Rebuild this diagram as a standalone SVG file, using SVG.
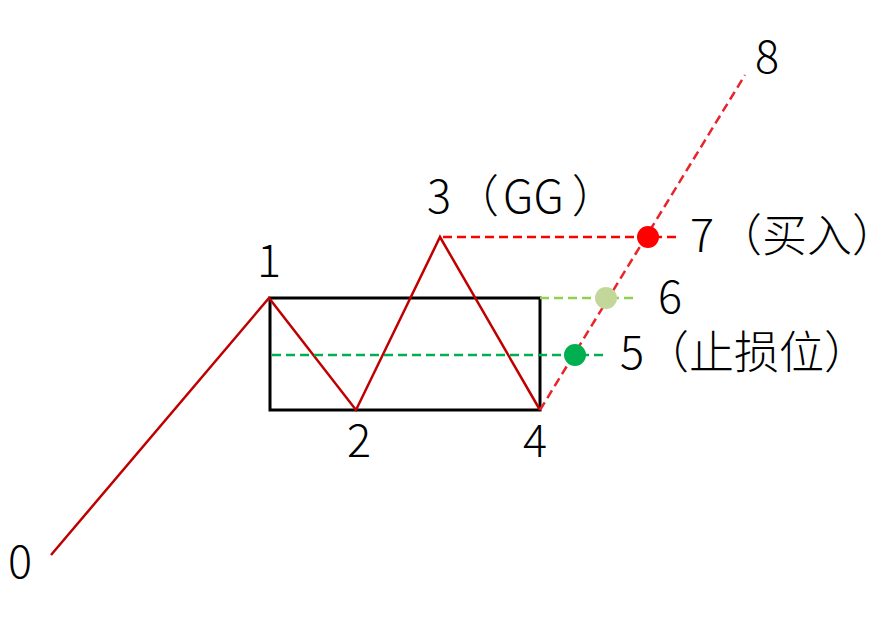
<svg xmlns="http://www.w3.org/2000/svg" width="876" height="620" viewBox="0 0 876 620">
<style>
text{font-family:"Noto Sans CJK SC","Noto Sans",sans-serif;font-size:45px;font-weight:300;fill:#000}
.wave{fill:none;stroke:#C00000;stroke-width:2.5;stroke-linejoin:miter}
.dash{fill:none;stroke-width:2.5;stroke-dasharray:9 5}
</style>
<rect width="876" height="620" fill="#fff"/>
<g id="box"><rect x="270" y="298" width="270" height="112" fill="none" stroke="#000" stroke-width="3"/></g>
<g id="connectors">
<polyline class="wave" points="51,555 269,298 356,410 440,237 540,410"/>
<line class="dash" x1="540" y1="410" x2="745" y2="75" stroke="#E8242A"/>
<line class="dash" x1="443" y1="237" x2="680" y2="237" stroke="#FF0000"/>
<line class="dash" x1="540" y1="298" x2="638" y2="298" stroke="#92D050"/>
<line class="dash" x1="272" y1="355" x2="606" y2="355" stroke="#00B050"/>
</g>
<g id="p7"><circle cx="648" cy="237" r="11" fill="#FF0000"/><text x="690" y="252">7<tspan dx="3">（买入）</tspan></text></g>
<g id="p6"><circle cx="606" cy="298" r="11" fill="#C4D79B"/><text x="658" y="313">6</text></g>
<g id="p5"><circle cx="575" cy="355" r="11" fill="#00B050"/><text x="620" y="369">5（止损位）</text></g>
<g id="p0"><text x="8" y="578">0</text></g>
<g id="p1"><text x="257" y="277">1</text></g>
<g id="p2"><text x="347" y="457">2</text></g>
<g id="p3"><text x="427" y="213">3<tspan dx="3">（</tspan><tspan dx="4">GG</tspan><tspan dx="8">）</tspan></text></g>
<g id="p4"><text x="523" y="457">4</text></g>
<g id="p8"><text x="755" y="73">8</text></g>
</svg>
